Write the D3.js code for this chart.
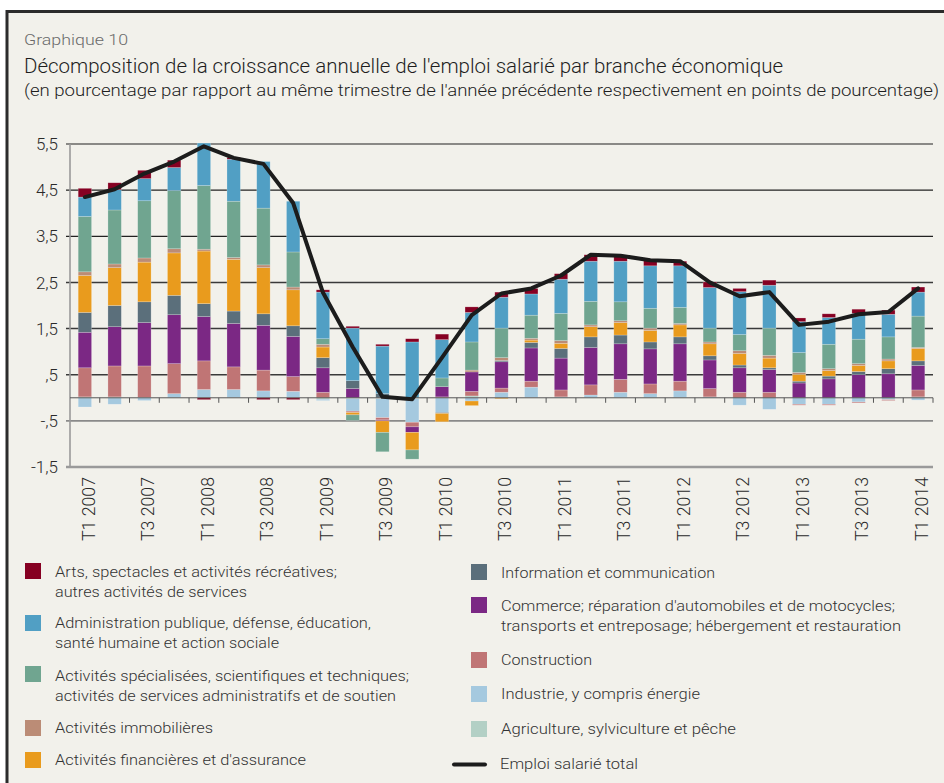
<!DOCTYPE html>
<html><head><meta charset="utf-8">
<script src="https://cdn.jsdelivr.net/npm/d3@7"></script>
<style>
html,body{margin:0;padding:0;background:#fff;}
svg{display:block;font-family:Roboto,"Liberation Sans",sans-serif;font-weight:300;}
</style></head><body>
<svg id="c" width="944" height="783"></svg>
<script>
// ---------- DATA ----------
const quarters = ["T1 2007","T2 2007","T3 2007","T4 2007","T1 2008","T2 2008","T3 2008","T4 2008",
  "T1 2009","T2 2009","T3 2009","T4 2009","T1 2010","T2 2010","T3 2010","T4 2010",
  "T1 2011","T2 2011","T3 2011","T4 2011","T1 2012","T2 2012","T3 2012","T4 2012",
  "T1 2013","T2 2013","T3 2013","T4 2013","T1 2014"];
const xTickLabels = ["T1 2007","T3 2007","T1 2008","T3 2008","T1 2009","T3 2009","T1 2010","T3 2010",
  "T1 2011","T3 2011","T1 2012","T3 2012","T1 2013","T3 2013","T1 2014"];
const yTicks = [-1.5,-0.5,0.5,1.5,2.5,3.5,4.5,5.5];
const yTickLabels = ["-1,5","-,5",",5","1,5","2,5","3,5","4,5","5,5"];

const agriculture  = [0.02,0.02,0.01,0.01,0.01,0.01,0.01,0.01,-0.03,-0.02,-0.02,-0.02,0.00,0.04,0.01,0.01,0.00,0.01,0.01,0.01,0.01,0.00,0.00,0.00,0.00,0.00,0.00,0.00,0.02];
const industrie    = [-0.20,-0.14,-0.06,0.08,0.17,0.17,0.14,0.13,-0.03,-0.27,-0.41,-0.51,-0.32,-0.07,0.11,0.22,0.02,0.05,0.11,0.08,0.14,0.02,-0.16,-0.25,-0.14,-0.14,-0.09,-0.04,-0.05];
const construction = [0.63,0.67,0.68,0.65,0.62,0.49,0.45,0.32,0.12,-0.03,-0.05,-0.10,0.02,0.10,0.09,0.13,0.15,0.22,0.28,0.21,0.21,0.18,0.12,0.12,-0.02,-0.02,-0.02,-0.02,0.15];
const commerce     = [0.77,0.85,0.94,1.06,0.96,0.94,0.97,0.87,0.53,0.20,-0.02,-0.12,0.22,0.42,0.57,0.72,0.69,0.81,0.77,0.76,0.81,0.62,0.53,0.49,0.32,0.41,0.50,0.52,0.53];
const information  = [0.43,0.46,0.45,0.42,0.28,0.27,0.25,0.23,0.22,0.17,0.09,0.00,-0.02,0.00,0.03,0.12,0.21,0.23,0.19,0.15,0.15,0.09,0.06,0.04,0.04,0.06,0.07,0.11,0.10];
const finance      = [0.80,0.82,0.86,0.92,1.14,1.12,1.00,0.78,0.23,-0.05,-0.25,-0.38,-0.18,-0.10,-0.02,0.05,0.11,0.22,0.27,0.25,0.26,0.26,0.25,0.21,0.15,0.12,0.13,0.17,0.27];
const immobilier   = [0.08,0.08,0.09,0.09,0.04,0.04,0.06,0.06,0.06,0.00,0.00,0.00,0.00,0.04,0.06,0.04,0.06,0.04,0.04,0.05,0.03,0.04,0.06,0.06,0.04,0.04,0.04,0.04,0.02];
const specialisees = [1.20,1.17,1.24,1.26,1.38,1.22,1.23,0.76,0.12,-0.12,-0.42,-0.20,0.19,0.61,0.64,0.50,0.59,0.51,0.41,0.43,0.35,0.30,0.35,0.59,0.43,0.53,0.53,0.48,0.68];
const administration=[0.42,0.44,0.48,0.50,0.92,0.91,1.01,1.10,1.01,1.14,1.03,1.21,0.83,0.64,0.67,0.46,0.74,0.87,0.88,0.92,0.90,0.88,0.93,0.93,0.67,0.58,0.56,0.49,0.52];
const arts         = [0.19,0.15,0.18,0.16,-0.04,0.04,-0.04,-0.04,0.05,0.04,0.04,0.07,0.12,0.12,0.11,0.12,0.12,0.14,0.11,0.11,0.10,0.12,0.07,0.11,0.08,0.08,0.09,0.09,0.11];
const emploiTotal  = [4.35,4.52,4.86,5.12,5.45,5.20,5.07,4.22,2.28,1.10,0.02,-0.03,0.87,1.79,2.26,2.37,2.65,3.10,3.08,2.98,2.96,2.50,2.20,2.29,1.58,1.65,1.81,1.86,2.37];

// series (stack order bottom -> top)
const seriesKeys = ["agri","ind","constr","comm","info","fin","immo","spec","admin","arts"];
const seriesValues = [agriculture,industrie,construction,commerce,information,finance,immobilier,specialisees,administration,arts];
const seriesColors = ["#b3d0c5","#a5c9df","#c07575","#7b2884","#5b6f7b","#e99b1d","#bb8c76","#70a590","#519fc4","#860022"];
const seriesNames = [
  ["Agriculture, sylviculture et pêche"],
  ["Industrie, y compris énergie"],
  ["Construction"],
  ["Commerce; réparation d'automobiles et de motocycles;","transports et entreposage; hébergement et restauration"],
  ["Information et communication"],
  ["Activités financières et d'assurance"],
  ["Activités immobilières"],
  ["Activités spécialisées, scientifiques et techniques;","activités de services administratifs et de soutien"],
  ["Administration publique, défense, éducation,","santé humaine et action sociale"],
  ["Arts, spectacles et activités récréatives;","autres activités de services"]
];
const lineName = "Emploi salarié total";

// ---------- LAYOUT ----------
const svg = d3.select("#c");
const W = 944, H = 783;
const x0 = 70, x1 = 933, yTop = 144, yBot = 467;

svg.append("rect").attr("width",W).attr("height",H).attr("fill","#fff");
svg.append("rect").attr("x",7).attr("y",11.5).attr("width",W+20).attr("height",H+20)
  .attr("fill","#f2f1eb").attr("stroke","#2b2b2b").attr("stroke-width",3);

const txt = (x,y,s,size,color,len) => {
  const t = svg.append("text").attr("x",x).attr("y",y).text(s)
    .attr("font-size",size).attr("fill",color);
  if (len) t.attr("textLength",len).attr("lengthAdjust","spacingAndGlyphs");
  return t;
};
txt(24,45,"Graphique 10",15,"#6a6a6a",104);
txt(24,73,"Décomposition de la croissance annuelle de l'emploi salarié par branche économique",20,"#1e1e1e",759);
txt(24,96,"(en pourcentage par rapport au même trimestre de l'année précédente respectivement en points de pourcentage)",16,"#1e1e1e",915);

const x = d3.scaleBand().domain(quarters).range([x0,x1]).paddingInner(0.55).paddingOuter(0.275);
const y = d3.scaleLinear().domain([-1.5,5.5]).range([yBot,yTop]);

// grid
const gridStyle = v => v >= 3 ? ["#222",1.2] : v > 0 ? ["#3a3a3a",1.4] : v > -1 ? ["#8a8a8a",1.6] : ["#9a9a9a",2.6];
svg.append("g").selectAll("line").data(yTicks).join("line")
  .attr("x1",66).attr("x2",x1).attr("y1",d=>y(d)).attr("y2",d=>y(d))
  .attr("stroke",d=>gridStyle(d)[0]).attr("stroke-width",d=>gridStyle(d)[1]);

// y labels
svg.append("g").selectAll("text").data(yTicks).join("text")
  .attr("x",58).attr("y",d=>y(d)).attr("dy","0.36em").attr("text-anchor","end")
  .attr("font-size",17).attr("fill","#2a2a2a")
  .text((d,i)=>yTickLabels[i]);

// left axis
svg.append("line").attr("x1",x0).attr("x2",x0).attr("y1",yTop).attr("y2",yBot)
  .attr("stroke","#9a9a9a").attr("stroke-width",1.6);

// stacked bars
const table = quarters.map((q,i)=>{
  const o = {q};
  seriesKeys.forEach((k,j)=>o[k]=seriesValues[j][i]);
  return o;
});
const stack = d3.stack().keys(seriesKeys).offset(d3.stackOffsetDiverging)(table);
const gBars = svg.append("g");
stack.forEach((layer,j)=>{
  gBars.append("g").attr("fill",seriesColors[j])
    .selectAll("rect").data(layer).join("rect")
    .attr("x",d=>x(d.data.q)).attr("width",x.bandwidth())
    .attr("y",d=>y(Math.max(d[0],d[1])))
    .attr("height",d=>Math.abs(y(d[0])-y(d[1])))
    .attr("stroke","rgba(255,255,255,0.35)").attr("stroke-width",0.6);
});

// zero axis + ticks
svg.append("line").attr("x1",x0).attr("x2",x1).attr("y1",y(0)).attr("y2",y(0))
  .attr("stroke","#555").attr("stroke-width",1);
const step = x.step();
svg.append("g").selectAll("line").data(d3.range(1,quarters.length+1)).join("line")
  .attr("x1",d=>x0+d*step).attr("x2",d=>x0+d*step)
  .attr("y1",y(0)).attr("y2",y(0)+5).attr("stroke","#555").attr("stroke-width",1);

// x labels
svg.append("g").selectAll("text").data(xTickLabels).join("text")
  .attr("transform",d=>`translate(${x(d)+x.bandwidth()/2+3},${yBot+10}) rotate(-90)`)
  .attr("text-anchor","end").attr("dy","0.36em")
  .attr("font-size",19).attr("fill","#2a2a2a")
  .attr("textLength",64).attr("lengthAdjust","spacingAndGlyphs")
  .text(d=>d);

// total line
const line = d3.line().x((d,i)=>x(quarters[i])+x.bandwidth()/2).y(d=>y(d));
svg.append("path").datum(emploiTotal).attr("d",line)
  .attr("fill","none").attr("stroke","#1c1c1c").attr("stroke-width",4)
  .attr("stroke-linejoin","round").attr("stroke-linecap","round");

// ---------- LEGEND ----------
// [series index, square x, square y, text x, baselines, widths]
const legendLayout = [
  [9, 25, 563, 55, [577,597], [282,192]],
  [8, 25, 615, 55, [628,648], [316,224]],
  [7, 25, 666, 55, [681,701], [354,341]],
  [6, 25, 720, 55, [733], [158]],
  [5, 25, 752, 55, [765], [251]],
  [4, 471, 564, 501, [578], [214]],
  [3, 471, 597, 501, [611,631], [394,400]],
  [2, 471, 652, 501, [665], [91]],
  [1, 471, 686, 501, [699], [199]],
  [0, 471, 721, 501, [734], [235]]
];
const gL = svg.append("g");
legendLayout.forEach(([j,sx,sy,tx,bl,wd])=>{
  gL.append("rect").attr("x",sx).attr("y",sy).attr("width",16).attr("height",16).attr("fill",seriesColors[j]);
  seriesNames[j].forEach((s,k)=>{
    gL.append("text").attr("x",tx).attr("y",bl[k]).text(s)
      .attr("font-size",15).attr("fill","#333")
      .attr("textLength",wd[k]).attr("lengthAdjust","spacingAndGlyphs");
  });
});
gL.append("line").attr("x1",454).attr("x2",485).attr("y1",764.5).attr("y2",764.5)
  .attr("stroke","#1c1c1c").attr("stroke-width",4).attr("stroke-linecap","round");
gL.append("text").attr("x",500).attr("y",769).text(lineName)
  .attr("font-size",15).attr("fill","#333")
  .attr("textLength",138).attr("lengthAdjust","spacingAndGlyphs");
</script>
</body></html>
